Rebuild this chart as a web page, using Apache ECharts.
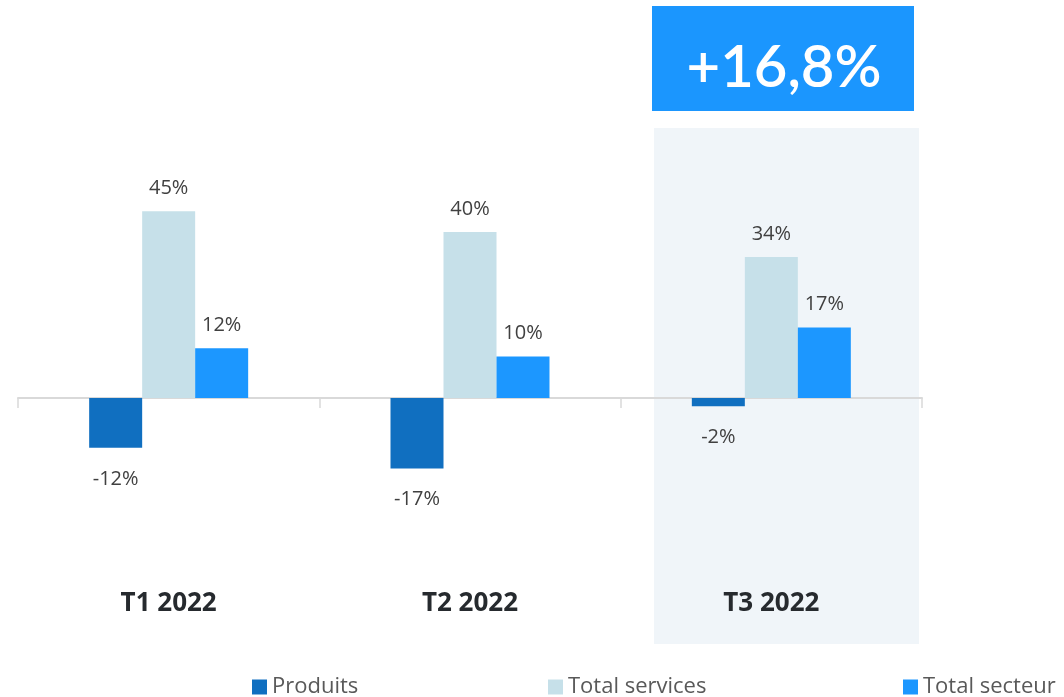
<!DOCTYPE html>
<html>
<head>
<meta charset="utf-8">
<script src="https://cdn.jsdelivr.net/npm/echarts@6/dist/echarts.min.js"></script>
<style>
  html, body { margin: 0; padding: 0; background: #fff; }
  #chart { width: 1064px; height: 697px; }
</style>
</head>
<body>
<div id="chart"></div>
<script>
const categories = ['T1 2022', 'T2 2022', 'T3 2022'];
const produits = [-12, -17, -2];
const totalServices = [45, 40, 34];
const totalSecteur = [12, 10, 17];
const headline = '+16,8%';

const colors = {
  produits: '#106fc0',
  services: '#c6e0e9',
  secteur: '#1c97ff'
};

const labelFont = '"Open Sans", "Noto Sans", sans-serif';

// positive values labelled above the bar, negative ones below
const withLabels = (values) => values.map(v => ({
  value: v,
  label: { position: v < 0 ? 'bottom' : 'top', distance: v < 0 ? 21 : 13 }
}));

const makeSeries = (name, values, color) => ({
  name,
  type: 'bar',
  barWidth: 53,
  barGap: 0,
  data: withLabels(values),
  itemStyle: { color },
  label: {
    show: true,
    formatter: (p) => p.value + '%',
    fontFamily: labelFont,
    fontSize: 20,
    color: '#404040'
  }
});

const legendBase = {
  bottom: -6,
  icon: 'rect',
  itemWidth: 15,
  itemHeight: 15,
  itemGap: 6,
  textStyle: { fontFamily: labelFont, fontSize: 22, color: '#595959' }
};

const chart = echarts.init(document.getElementById('chart'));
chart.setOption({
  animation: false,
  graphic: [
    {
      type: 'rect',
      z: -10,
      shape: { x: 654, y: 128, width: 265, height: 516 },
      style: { fill: '#f0f5f9' }
    },
    {
      type: 'rect',
      shape: { x: 652, y: 6, width: 262, height: 105 },
      style: { fill: '#1b96fe' }
    },
    {
      type: 'text',
      x: 784,
      y: 68,
      style: {
        text: headline,
        fill: '#ffffff',
        font: '600 58px Lato, "Open Sans", sans-serif',
        align: 'center',
        verticalAlign: 'middle'
      }
    }
  ],
  legend: [
    Object.assign({ left: 247, data: ['Produits'] }, legendBase),
    Object.assign({ left: 543, data: ['Total services'] }, legendBase),
    Object.assign({ left: 898, data: ['Total secteur'] }, legendBase)
  ],
  grid: {
    left: 18, right: 142, top: 149, bottom: 133,
    containLabel: false,
    outerBoundsMode: 'none'
  },
  xAxis: [
    {
      type: 'category',
      data: categories,
      axisLine: { onZero: true, lineStyle: { color: '#d9d9d9', width: 2 } },
      axisTick: { show: true, length: 10, lineStyle: { color: '#d9d9d9', width: 1.5 } },
      axisLabel: { show: false }
    },
    {
      // quarter names sit well below the chart, on their own axis
      type: 'category',
      data: categories,
      position: 'bottom',
      axisLine: { show: false, onZero: false },
      axisTick: { show: false },
      axisLabel: {
        margin: 27,
        fontFamily: labelFont,
        fontSize: 26,
        fontWeight: 'bold',
        color: '#262a2e'
      }
    }
  ],
  yAxis: {
    type: 'value',
    min: -40,
    max: 60,
    show: false,
    splitLine: { show: false }
  },
  series: [
    makeSeries('Produits', produits, colors.produits),
    makeSeries('Total services', totalServices, colors.services),
    makeSeries('Total secteur', totalSecteur, colors.secteur)
  ]
});
</script>
</body>
</html>
